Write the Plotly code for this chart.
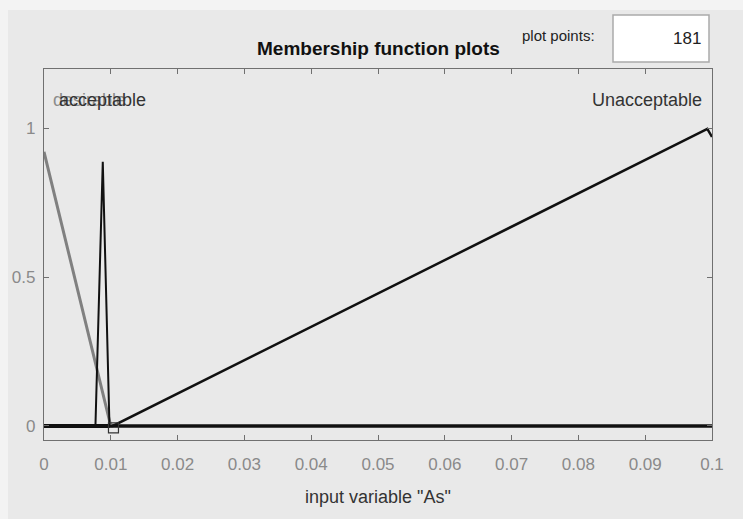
import plotly.graph_objects as go

# ---- data ----
x_desirable = [0.0, 0.0100, 0.1]
y_desirable = [0.92, 0.0, 0.0]

x_acceptable = [0.0, 0.0077, 0.0088, 0.0098, 0.1]
y_acceptable = [0.0, 0.0, 0.887, 0.0, 0.0]

x_unacceptable = [0.0, 0.0103, 0.0993, 0.1]
y_unacceptable = [0.0, 0.0, 0.997, 0.97]

x_ticks = [0, 0.01, 0.02, 0.03, 0.04, 0.05, 0.06, 0.07, 0.08, 0.09, 0.1]
x_tick_labels = ["0", "0.01", "0.02", "0.03", "0.04", "0.05", "0.06", "0.07", "0.08", "0.09", "0.1"]
y_ticks = [0, 0.5, 1]
y_tick_labels = ["0", "0.5", "1"]

mf_labels = ["desirable", "acceptable", "Unacceptable"]
plot_points = "181"

FONT = "Liberation Sans, Arial, sans-serif"

# plot area in pixels: left 44, right 712, top 69, bottom 440
PL, PR, PT, PB = 44, 712, 69, 440
PW, PH = PR - PL, PB - PT


def px(x):
    return (x - PL) / PW


def py(y):
    return (PB - y) / PH


fig = go.Figure()
fig.add_trace(go.Scatter(x=[0, 0.1], y=[0, 0], mode="lines",
                         line=dict(color="#111111", width=4), hoverinfo="skip"))
fig.add_trace(go.Scatter(x=x_desirable, y=y_desirable, mode="lines",
                         line=dict(color="#808080", width=3), hoverinfo="skip"))
fig.add_trace(go.Scatter(x=x_acceptable, y=y_acceptable, mode="lines",
                         line=dict(color="#111111", width=2), hoverinfo="skip"))
fig.add_trace(go.Scatter(x=x_unacceptable, y=y_unacceptable, mode="lines",
                         line=dict(color="#111111", width=2.5), hoverinfo="skip"))
fig.add_trace(go.Scatter(x=[0.0104], y=[-0.006], mode="markers",
                         marker=dict(symbol="square-open", size=10, color="#333333",
                                     line=dict(width=1.2)), hoverinfo="skip"))

annotations = [
    dict(x=0.0011, y=1.094, xref="x", yref="y", text=mf_labels[0], showarrow=False,
         xanchor="left", yanchor="middle", font=dict(family=FONT, size=18, color="#8c8c8c")),
    dict(x=0.0088, y=1.094, xref="x", yref="y", text=mf_labels[1], showarrow=False,
         xanchor="center", yanchor="middle", font=dict(family=FONT, size=18, color="#333333")),
    dict(x=0.0988, y=1.094, xref="x", yref="y", text=mf_labels[2], showarrow=False,
         xanchor="right", yanchor="middle", font=dict(family=FONT, size=18, color="#333333")),
    dict(x=px(378), y=py(48), xref="paper", yref="paper", text="<b>Membership function plots</b>",
         showarrow=False, xanchor="center", yanchor="middle",
         font=dict(family=FONT, size=19, color="#111111")),
    dict(x=px(558), y=py(36), xref="paper", yref="paper", text="plot points:",
         showarrow=False, xanchor="center", yanchor="middle",
         font=dict(family=FONT, size=15, color="#222222")),
    dict(x=px(703), y=py(39), xref="paper", yref="paper", text=plot_points,
         showarrow=False, xanchor="right", yanchor="middle",
         font=dict(family=FONT, size=17, color="#222222")),
    dict(x=px(378), y=py(497), xref="paper", yref="paper", text='input variable "As"',
         showarrow=False, xanchor="center", yanchor="middle",
         font=dict(family=FONT, size=18, color="#333333")),
]

shapes = [
    # lighter outer window strips
    dict(type="rect", xref="paper", yref="paper", x0=px(0), x1=px(743),
         y0=py(10), y1=py(0), fillcolor="#f3f3f3", line=dict(width=0), layer="below"),
    dict(type="rect", xref="paper", yref="paper", x0=px(0), x1=px(8),
         y0=py(519), y1=py(0), fillcolor="#f3f3f3", line=dict(width=0), layer="below"),
    # plot points box
    dict(type="rect", xref="paper", yref="paper", x0=px(613), x1=px(709),
         y0=py(62), y1=py(15), fillcolor="#ffffff",
         line=dict(color="#aaaaaa", width=1.5), layer="below"),
]

axis_common = dict(showline=True, mirror="ticks", linecolor="#707070", linewidth=1.2,
                   ticks="inside", ticklen=5, tickcolor="#707070", showgrid=False, zeroline=False,
                   tickfont=dict(family=FONT, size=17, color="#8a8a8a"))

fig.update_layout(
    width=743, height=519,
    margin=dict(l=PL, r=743 - PR, t=PT, b=519 - PB),
    paper_bgcolor="#e9e9e9", plot_bgcolor="#e9e9e9",
    showlegend=False,
    xaxis=dict(range=[0, 0.1], tickvals=x_ticks, ticktext=x_tick_labels,
               ticklabelstandoff=8, **axis_common),
    yaxis=dict(range=[-0.047, 1.198], tickvals=y_ticks, ticktext=y_tick_labels,
               ticklabelstandoff=4, **axis_common),
    annotations=annotations, shapes=shapes,
)

fig.write_html("out.html")
